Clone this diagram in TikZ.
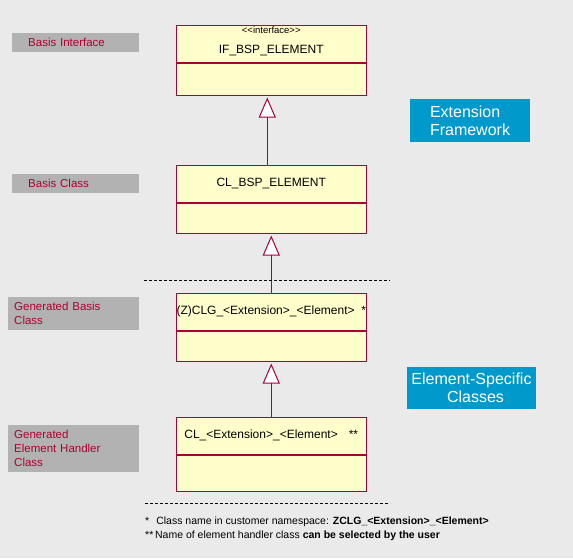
\documentclass[tikz,border=0pt]{standalone}
\usepackage{fontspec}
\setmainfont{Liberation Sans}
\usetikzlibrary{arrows.meta}
\usetikzlibrary{positioning}
\usetikzlibrary{calc}
\usepackage{xcolor}

\definecolor{bggray}{RGB}{234,234,234}
\definecolor{lblgray}{RGB}{178,178,178}
\definecolor{lblred}{RGB}{176,0,48}
\definecolor{umlred}{RGB}{168,0,56}
\definecolor{umlfill}{RGB}{255,255,204}
\definecolor{sapblue}{RGB}{0,153,204}

\tikzset{
  clsname/.style={draw=umlred, fill=umlfill, line width=1pt, minimum width=190pt,
    minimum height=37pt, inner sep=0pt, font=\fontsize{12}{14}\selectfont},
  clsbody/.style={draw=umlred, fill=umlfill, line width=1pt, minimum width=190pt, inner sep=0pt},
  lbl/.style={fill=lblgray, text=lblred, anchor=north west, align=left,
    font=\fontsize{11.5}{14}\selectfont},
  bluebox/.style={fill=sapblue, text=white, font=\fontsize{16}{18}\selectfont},
  inherit/.style={draw=umlred, line width=1pt, shorten >=2pt,
    -{Triangle[width=17pt, length=20pt, fill=white]}},
  note/.style={anchor=west, inner sep=0pt, font=\fontsize{10.5}{12}\selectfont}
}

\begin{document}
\begin{tikzpicture}[x=1pt,y=-1pt]
      % Background
      \fill[bggray] (0,0) rectangle (573,558);

      % Classes
      \node[clsname, label={[anchor=north, yshift=-1pt, inner sep=1pt, font=\fontsize{9.5}{10}\selectfont]north:{<{}<interface>{}>}},
        text height=19.6pt, text depth=0pt] (ifname) at (271.25,43.5) {IF\_BSP\_ELEMENT};
      \node[clsbody, minimum height=32pt, below=0pt of ifname] (ifbody) {};

      \node[clsname] (bsname) at (271.25,183.5) {CL\_BSP\_ELEMENT\hspace{7pt}};
      \node[clsbody, minimum height=30pt, below=0pt of bsname] (bsbody) {};

      \node[clsname] (genname) at (271.25,311.5) {(Z)CLG\_<Extension>\_<Element>\ \ *};
      \node[clsbody, minimum height=30pt, below=0pt of genname] (genbody) {};

      \node[clsname] (hdlname) at (271.25,435.5) {CL\_<Extension>\_<Element>\hspace{11pt}**};
      \node[clsbody, minimum height=36pt, below=0pt of hdlname] (hdlbody) {};

      % Inheritance
      \draw[inherit] ([xshift=-4pt]bsname.north) -- ([xshift=-4pt]ifbody.south);
      \draw[inherit] (genname.north) -- (bsbody.south);
      \draw[inherit] (hdlname.north) -- (genbody.south);

      % Labels
      \node[lbl, text width=95pt, inner xsep=16pt, minimum height=19pt] (lblif) at (12,33) {Basis Interface};
      \node[lbl, text width=95pt, inner xsep=16pt, minimum height=19pt] (lblbs) at (12,174) {Basis Class};
      \node[lbl, text width=119pt, inner xsep=6pt, minimum height=33pt] (lblgen) at (8,297) {Generated Basis\\Class};
      \node[lbl, text width=119pt, inner xsep=6pt, minimum height=47pt] (lblhdl) at (8,425) {Generated\\Element Handler\\Class};

      \node[bluebox, minimum width=120pt, minimum height=43pt, align=left] (extfw) at (470,120.5) {Extension\\Framework};
      \node[bluebox, minimum width=129pt, minimum height=42pt, align=center] (elspec) at (471.5,388) {Element-Specific\\\hspace*{8pt}Classes};

      % Separators
      \foreach \y/\xa in {280/144,503/145}
      {
        \draw[dash pattern=on 3pt off 2pt, line width=1pt] (\xa,\y) -- (390,\y);
      }

      % Notes
      \node[note] (note1) at (145,522) {*\hspace{7pt}Class name in customer namespace: \textbf{ZCLG\_<Extension>\_<Element>}};
      \node[note] (note2) at (145,536) {**\,Name of element handler class \textbf{can be selected by the user}};
  \end{tikzpicture}
\end{document}
